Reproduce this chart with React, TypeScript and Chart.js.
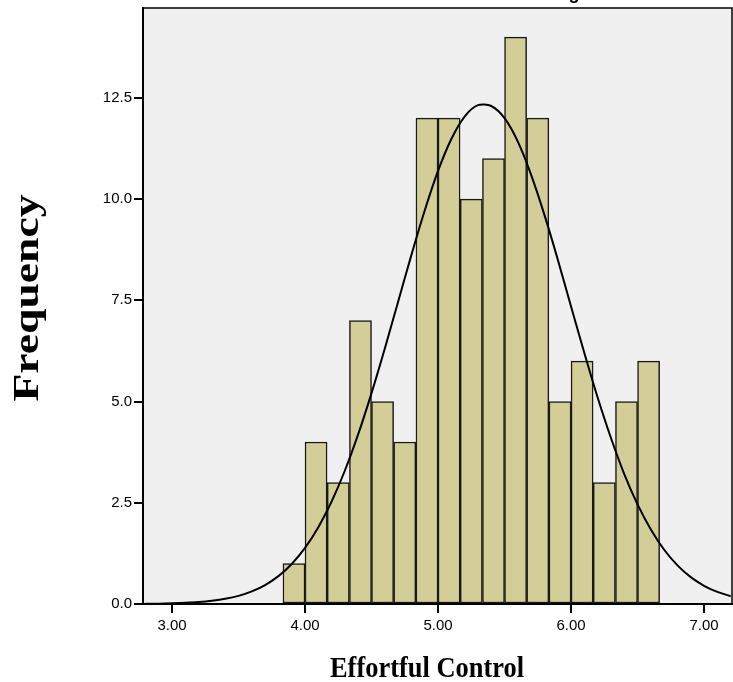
import React, { useEffect, useRef } from "react";
import { Chart, registerables } from "chart.js";

Chart.register(...registerables);

// ---- data ----
const TITLE = "Histogram";
const X_TITLE = "Effortful Control";
const Y_TITLE = "Frequency";

// bin centres (bin width 1/6)
const BIN_CENTERS = [
  3.917, 4.083, 4.25, 4.417, 4.583, 4.75, 4.917, 5.083, 5.25, 5.417, 5.583,
  5.75, 5.917, 6.083, 6.25, 6.417, 6.583,
];
const FREQUENCIES = [1, 4, 3, 7, 5, 4, 12, 12, 10, 11, 14, 12, 5, 6, 3, 5, 6];

// normal curve
const CURVE_X = [
  2.8, 2.9, 3.0, 3.1, 3.2, 3.3, 3.4, 3.5, 3.6, 3.7, 3.8, 3.9, 4.0, 4.1, 4.2,
  4.3, 4.4, 4.5, 4.6, 4.7, 4.8, 4.9, 5.0, 5.1, 5.2, 5.3, 5.4, 5.5, 5.6, 5.7,
  5.8, 5.9, 6.0, 6.1, 6.2, 6.3, 6.4, 6.5, 6.6, 6.7, 6.8, 6.9, 7.0, 7.1, 7.2,
];
const CURVE_Y = [
  0.005, 0.009, 0.016, 0.028, 0.047, 0.079, 0.127, 0.201, 0.311, 0.469, 0.688,
  0.989, 1.385, 1.896, 2.531, 3.297, 4.194, 5.208, 6.312, 7.467, 8.623, 9.719,
  10.695, 11.485, 12.04, 12.32, 12.3, 12.0, 11.42, 10.6, 9.61, 8.51, 7.35, 6.2,
  5.1, 4.1, 3.21, 2.46, 1.84, 1.34, 0.955, 0.663, 0.45, 0.298, 0.193,
];

const X_TICKS = [3, 4, 5, 6, 7];
const Y_TICKS = [0, 2.5, 5, 7.5, 10, 12.5];
const X_MIN = 2.782;
const X_MAX = 7.21;
const Y_MIN = 0;
const Y_MAX = 14.72;

const BAR_COLOR = "#D3CE97";
const PLOT_BG = "#F0F0F0";
const TICK_FONT = { family: "'Liberation Sans', Arial, sans-serif", size: 15 };

const decorPlugin = {
  id: "decor",
  beforeDraw(chart: any) {
    const { ctx, chartArea: a } = chart;
    ctx.save();
    ctx.fillStyle = "#ffffff";
    ctx.fillRect(0, 0, chart.width, chart.height);
    ctx.fillStyle = PLOT_BG;
    ctx.fillRect(a.left, a.top, a.right - a.left, a.bottom - a.top);
    ctx.restore();
  },
  afterDraw(chart: any) {
    const { ctx, chartArea: a } = chart;
    ctx.save();
    ctx.strokeStyle = "#000";
    ctx.lineWidth = 1.5;
    ctx.strokeRect(a.left, a.top, a.right - a.left, a.bottom - a.top);

    ctx.fillStyle = "#000";
    // x title
    ctx.font = "bold 30px 'Liberation Serif', 'Times New Roman', serif";
    ctx.textAlign = "center";
    ctx.textBaseline = "alphabetic";
    let w = ctx.measureText(X_TITLE).width;
    ctx.save();
    ctx.translate(427, 677);
    ctx.scale(194 / w, 1);
    ctx.fillText(X_TITLE, 0, 0);
    ctx.restore();

    // y title
    ctx.font = "bold 36px 'Liberation Serif', 'Times New Roman', serif";
    w = ctx.measureText(Y_TITLE).width;
    ctx.save();
    ctx.translate(38, 298);
    ctx.rotate(-Math.PI / 2);
    ctx.scale(207 / w, 1);
    ctx.fillText(Y_TITLE, 0, 0);
    ctx.restore();

    // chart title (mostly above the visible page)
    ctx.font = "bold 18px 'Liberation Sans', Arial, sans-serif";
    ctx.textAlign = "left";
    const pre = ctx.measureText("Histo").width;
    const gw = ctx.measureText("g").width;
    ctx.fillText(TITLE, 574 - pre - gw / 2, -1);
    ctx.restore();
  },
};

export default function App() {
  const ref = useRef<HTMLCanvasElement | null>(null);

  useEffect(() => {
    const canvas = ref.current;
    if (!canvas) return;
    const chart = new Chart(canvas, {
      type: "bar",
      data: {
        datasets: [
          {
            type: "line",
            data: CURVE_X.map((x, i) => ({ x, y: CURVE_Y[i] })),
            borderColor: "#000",
            borderWidth: 2,
            pointRadius: 0,
            tension: 0.3,
            fill: false,
            order: 0,
          } as any,
          {
            type: "bar",
            data: BIN_CENTERS.map((x, i) => ({ x, y: FREQUENCIES[i] })),
            backgroundColor: BAR_COLOR,
            borderColor: "#1a1a1a",
            borderWidth: 1.5,
            borderSkipped: false,
            barPercentage: 1,
            categoryPercentage: 1,
            order: 1,
          } as any,
        ],
      },
      options: {
        animation: false,
        responsive: false,
        maintainAspectRatio: false,
        devicePixelRatio: 1,
        layout: { padding: { left: 0, top: 8, right: 1, bottom: 0 } },
        plugins: {
          legend: { display: false },
          tooltip: { enabled: false },
          title: { display: false },
        },
        scales: {
          x: {
            type: "linear",
            min: X_MIN,
            max: X_MAX,
            offset: false,
            afterBuildTicks: (s: any) => {
              s.ticks = X_TICKS.map((v) => ({ value: v }));
            },
            afterFit: (s: any) => {
              s.height = 78;
              s.paddingLeft = 0;
              s.paddingRight = 0;
            },
            ticks: {
              color: "#000",
              font: TICK_FONT,
              padding: 4,
              maxRotation: 0,
              autoSkip: false,
              callback: (v: any) => Number(v).toFixed(2),
            },
            grid: {
              display: true,
              offset: false,
              drawOnChartArea: false,
              drawTicks: true,
              tickLength: 9,
              tickColor: "#000",
              tickWidth: 2,
              color: "#000",
              lineWidth: 2,
            },
            border: { display: true, color: "#000", width: 2 },
          },
          y: {
            type: "linear",
            min: Y_MIN,
            max: Y_MAX,
            afterBuildTicks: (s: any) => {
              s.ticks = Y_TICKS.map((v) => ({ value: v }));
            },
            afterFit: (s: any) => {
              s.width = 143;
              s.paddingTop = 0;
              s.paddingBottom = 0;
            },
            ticks: {
              color: "#000",
              font: TICK_FONT,
              padding: 2,
              autoSkip: false,
              callback: (v: any) => Number(v).toFixed(1),
            },
            grid: {
              display: true,
              offset: false,
              drawOnChartArea: false,
              drawTicks: true,
              tickLength: 9,
              tickColor: "#000",
              tickWidth: 2,
              color: "#000",
              lineWidth: 2,
            },
            border: { display: true, color: "#000", width: 2 },
          },
        },
      },
      plugins: [decorPlugin],
    });
    return () => chart.destroy();
  }, []);

  return (
    <div
      style={{
        position: "fixed",
        left: 0,
        top: 0,
        width: 733,
        height: 682,
        background: "#fff",
      }}
    >
      <canvas ref={ref} width={733} height={682} style={{ display: "block" }} />
    </div>
  );
}
